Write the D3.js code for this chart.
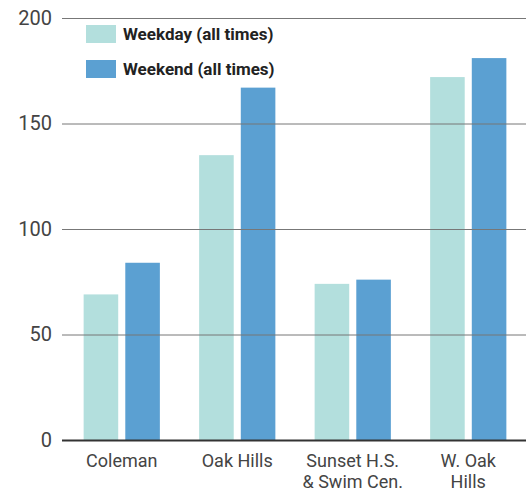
<!DOCTYPE html>
<html>
<head>
<meta charset="utf-8">
<script src="https://cdn.jsdelivr.net/npm/d3@7"></script>
<style>
  html, body { margin: 0; padding: 0; background: #fff; }
  svg { display: block; font-family: Roboto, "Noto Sans", sans-serif; }
</style>
</head>
<body>
<svg id="chart" width="526" height="492"></svg>
<script>
// Parking counts by location
const locations = [["Coleman"], ["Oak Hills"], ["Sunset H.S.", "& Swim Cen."], ["W. Oak", "Hills"]];
const seriesNames = ["Weekday (all times)", "Weekend (all times)"];
const weekday = [69, 135, 74, 172];
const weekend = [84, 167, 76, 181];
const yTicks = [0, 50, 100, 150, 200];
const colors = ["#b3dfdd", "#5ba0d2"];

const svg = d3.select("#chart");
const margin = { left: 64, right: 0, top: 18, bottom: 52 };
const W = 526, H = 492;

const x0 = d3.scaleBand()
  .domain(d3.range(locations.length))
  .range([margin.left, W - margin.right])
  .paddingInner(0.34)
  .paddingOuter(0.17);

const x1 = d3.scaleBand()
  .domain([0, 1])
  .range([0, x0.bandwidth()])
  .paddingInner(0.17);

const y = d3.scaleLinear().domain([0, 200]).range([H - margin.bottom, margin.top]);

// Gridlines and tick labels
const yAxis = svg.append("g")
  .attr("transform", `translate(${margin.left - 2},0)`)
  .call(d3.axisLeft(y).tickValues(yTicks).tickSize(-(W - margin.left + 2)).tickPadding(10));
yAxis.select(".domain").remove();
yAxis.selectAll(".tick line")
  .attr("stroke", d => d === 0 ? "#333" : "#777")
  .attr("stroke-width", d => d === 0 ? 2 : 1);
yAxis.selectAll(".tick text")
  .attr("fill", "#444")
  .attr("font-size", 20)
  .attr("font-family", "Roboto, sans-serif");

// Bars
const data = locations.map((loc, i) => [weekday[i], weekend[i]]);
const groups = svg.insert("g", "g")
  .selectAll("g")
  .data(data)
  .join("g")
  .attr("transform", (d, i) => `translate(${x0(i)},0)`);

groups.selectAll("rect")
  .data(d => d)
  .join("rect")
  .attr("x", (d, j) => x1(j))
  .attr("width", x1.bandwidth())
  .attr("y", d => y(d))
  .attr("height", d => y(0) - y(d))
  .attr("fill", (d, j) => colors[j]);

// Keep the baseline on top of bars
yAxis.raise();

// Category labels
const xLabels = svg.append("g")
  .selectAll("text")
  .data(locations)
  .join("text")
  .attr("x", (d, i) => x0(i) + x0.bandwidth() / 2)
  .attr("y", H - margin.bottom + 27)
  .attr("text-anchor", "middle")
  .attr("fill", "#444")
  .attr("font-size", 18);
xLabels.each(function(d) {
  const t = d3.select(this);
  d.forEach((line, k) => {
    t.append("tspan")
      .attr("x", t.attr("x"))
      .attr("dy", k === 0 ? 0 : 20.5)
      .text(line);
  });
});

// Legend
const legend = svg.append("g")
  .selectAll("g")
  .data(seriesNames)
  .join("g")
  .attr("transform", (d, i) => `translate(86,${25 + i * 35})`);
legend.append("rect")
  .attr("width", 30)
  .attr("height", 18)
  .attr("fill", (d, i) => colors[i]);
legend.append("text")
  .attr("x", 37)
  .attr("y", 15)
  .attr("font-size", 17)
  .attr("font-weight", "bold")
  .attr("fill", "#222")
  .text(d => d);
</script>
</body>
</html>
